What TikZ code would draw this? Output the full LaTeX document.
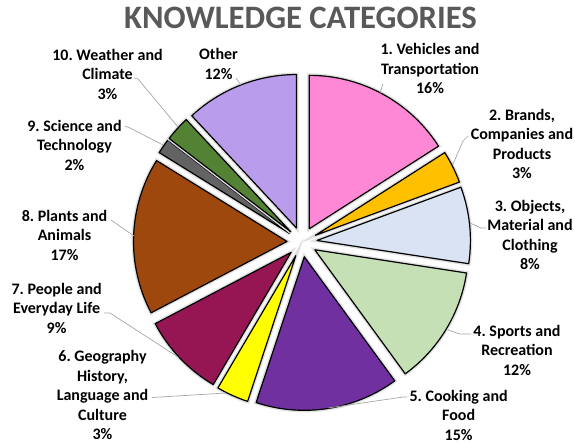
\documentclass[tikz,border=0pt]{standalone}
\usepackage{fontspec}
\setmainfont{Carlito}
\usepackage{tikz}
\frenchspacing

\definecolor{vehicles}{RGB}{255,136,214}
\definecolor{brands}{RGB}{255,192,0}
\definecolor{objects}{RGB}{218,227,243}
\definecolor{sports}{RGB}{197,224,180}
\definecolor{cooking}{RGB}{112,48,160}
\definecolor{geography}{RGB}{255,255,0}
\definecolor{people}{RGB}{149,22,83}
\definecolor{plants}{RGB}{158,72,14}
\definecolor{science}{RGB}{99,99,99}
\definecolor{weather}{RGB}{84,130,53}
\definecolor{other}{RGB}{185,156,235}
\definecolor{titlegray}{RGB}{89,89,89}
\definecolor{leadergray}{RGB}{166,166,166}

\tikzset{
  slice/.style={draw=black, line width=1.2pt, line join=round,
    preaction={draw=black!12, line width=4pt}},
  lbl/.style={align=center, inner sep=0pt,
    font=\fontsize{16}{19.5}\selectfont\bfseries},
  leader/.style={draw=leadergray, line width=0.7pt}
}

\begin{document}
\begin{tikzpicture}[x=1pt,y=1pt]
	\useasboundingbox (0,0) rectangle (575,444);
	% title
	\node[font=\fontsize{32.7}{38}\selectfont\bfseries, text=titlegray, inner sep=0pt] (title) at (300.5,426.6) {KNOWLEDGE CATEGORIES};
	
	% exploded pie
	\begin{scope}[shift={(302,202)}]
	\filldraw[slice, fill=vehicles, shift={(61.3:15pt)}] (0,0) -- (32.6:153.5pt) arc[start angle=32.6, end angle=90, radius=153.5pt] -- cycle;
	\filldraw[slice, fill=brands, shift={(26.45:15pt)}] (0,0) -- (20.3:153.5pt) arc[start angle=20.3, end angle=32.6, radius=153.5pt] -- cycle;
	\filldraw[slice, fill=objects, shift={(5.8:15pt)}] (0,0) -- (-8.7:153.5pt) arc[start angle=-8.7, end angle=20.3, radius=153.5pt] -- cycle;
	\filldraw[slice, fill=sports, shift={(-31.3:15pt)}] (0,0) -- (-53.9:153.5pt) arc[start angle=-53.9, end angle=-8.7, radius=153.5pt] -- cycle;
	\filldraw[slice, fill=cooking, shift={(-81.1:15pt)}] (0,0) -- (-108.3:153.5pt) arc[start angle=-108.3, end angle=-53.9, radius=153.5pt] -- cycle;
	\filldraw[slice, fill=geography, shift={(-114.4:15pt)}] (0,0) -- (-120.5:153.5pt) arc[start angle=-120.5, end angle=-108.3, radius=153.5pt] -- cycle;
	\filldraw[slice, fill=people, shift={(-136.4:15pt)}] (0,0) -- (-152.3:153.5pt) arc[start angle=-152.3, end angle=-120.5, radius=153.5pt] -- cycle;
	\filldraw[slice, fill=plants, shift={(177.95:15pt)}] (0,0) -- (148.2:153.5pt) arc[start angle=148.2, end angle=207.7, radius=153.5pt] -- cycle;
	\filldraw[slice, fill=science, shift={(145.35:15pt)}] (0,0) -- (142.5:153.5pt) arc[start angle=142.5, end angle=148.2, radius=153.5pt] -- cycle;
	\filldraw[slice, fill=weather, shift={(137.75:15pt)}] (0,0) -- (133:153.5pt) arc[start angle=133, end angle=142.5, radius=153.5pt] -- cycle;
	\filldraw[slice, fill=other, shift={(111.5:15pt)}] (0,0) -- (90:153.5pt) arc[start angle=90, end angle=133, radius=153.5pt] -- cycle;
	\end{scope}
	
	% labels
	\node[lbl] (l1) at (430,375.5) {1. Vehicles and\\Transportation\\16\%};
	\node[lbl] (l2) at (522,300) {2. Brands,\\Companies and\\Products\\3\%};
	\node[lbl] (l3) at (530,209) {3. Objects,\\Material and\\Clothing\\8\%};
	\node[lbl] (l4) at (517,94) {4. Sports and\\Recreation\\12\%};
	\node[lbl] (l5) at (458.6,29) {5. Cooking and\\Food\\15\%};
	\node[lbl] (l6) at (102.5,49) {6. Geography\\History,\\Language and\\Culture\\3\%};
	\node[lbl] (l7) at (56.6,136) {7. People and\\Everyday Life\\9\%};
	\node[lbl] (l8) at (64.5,209) {8. Plants and\\Animals\\17\%};
	\node[lbl] (l9) at (74.5,299) {9. Science and\\Technology\\2\%};
	\node[lbl] (l10) at (107.5,370) {10. Weather and\\Climate\\3\%};
	\node[lbl] (lo) at (218.5,380) {Other\\12\%};
	
	% leader lines
	\coordinate (a1) at (383,360);
	\coordinate (s1) at (380,351);
	\coordinate (a2) at (468,308);
	\coordinate (b2) at (463,303);
	\coordinate (s2) at (453,280);
	\coordinate (a3) at (486,216);
	\coordinate (b3) at (481,216);
	\coordinate (s3) at (470,221);
	\coordinate (a4) at (471,110);
	\coordinate (b4) at (460,110);
	\coordinate (s4) at (448,114);
	\coordinate (a5) at (407,47);
	\coordinate (b5) at (403,47);
	\coordinate (s5) at (328,36);
	\coordinate (a6) at (152,46.5);
	\coordinate (s6) at (226,51);
	\coordinate (a7) at (104,131);
	\coordinate (b7) at (110,131);
	\coordinate (s7) at (178,87);
	\coordinate (a8) at (111,224);
	\coordinate (s8) at (134,208);
	\coordinate (a9) at (125,318);
	\coordinate (b9) at (130,316);
	\coordinate (s9) at (163,299);
	\coordinate (a10) at (134,366);
	\coordinate (b10) at (138,365);
	\coordinate (s10) at (178,317);
	\coordinate (ao) at (236,366);
	\coordinate (so) at (241,359);
	
	\draw[leader] (a1) -- (s1);
	\draw[leader] (a2) -- (b2) -- (s2);
	\draw[leader] (a3) -- (b3) -- (s3);
	\draw[leader] (a4) -- (b4) -- (s4);
	\draw[leader] (a5) -- (b5) -- (s5);
	\draw[leader] (a6) -- (s6);
	\draw[leader] (a7) -- (b7) -- (s7);
	\draw[leader] (a8) -- (s8);
	\draw[leader] (a9) -- (b9) -- (s9);
	\draw[leader] (a10) -- (b10) -- (s10);
	\draw[leader] (ao) -- (so);
\end{tikzpicture}
\end{document}
